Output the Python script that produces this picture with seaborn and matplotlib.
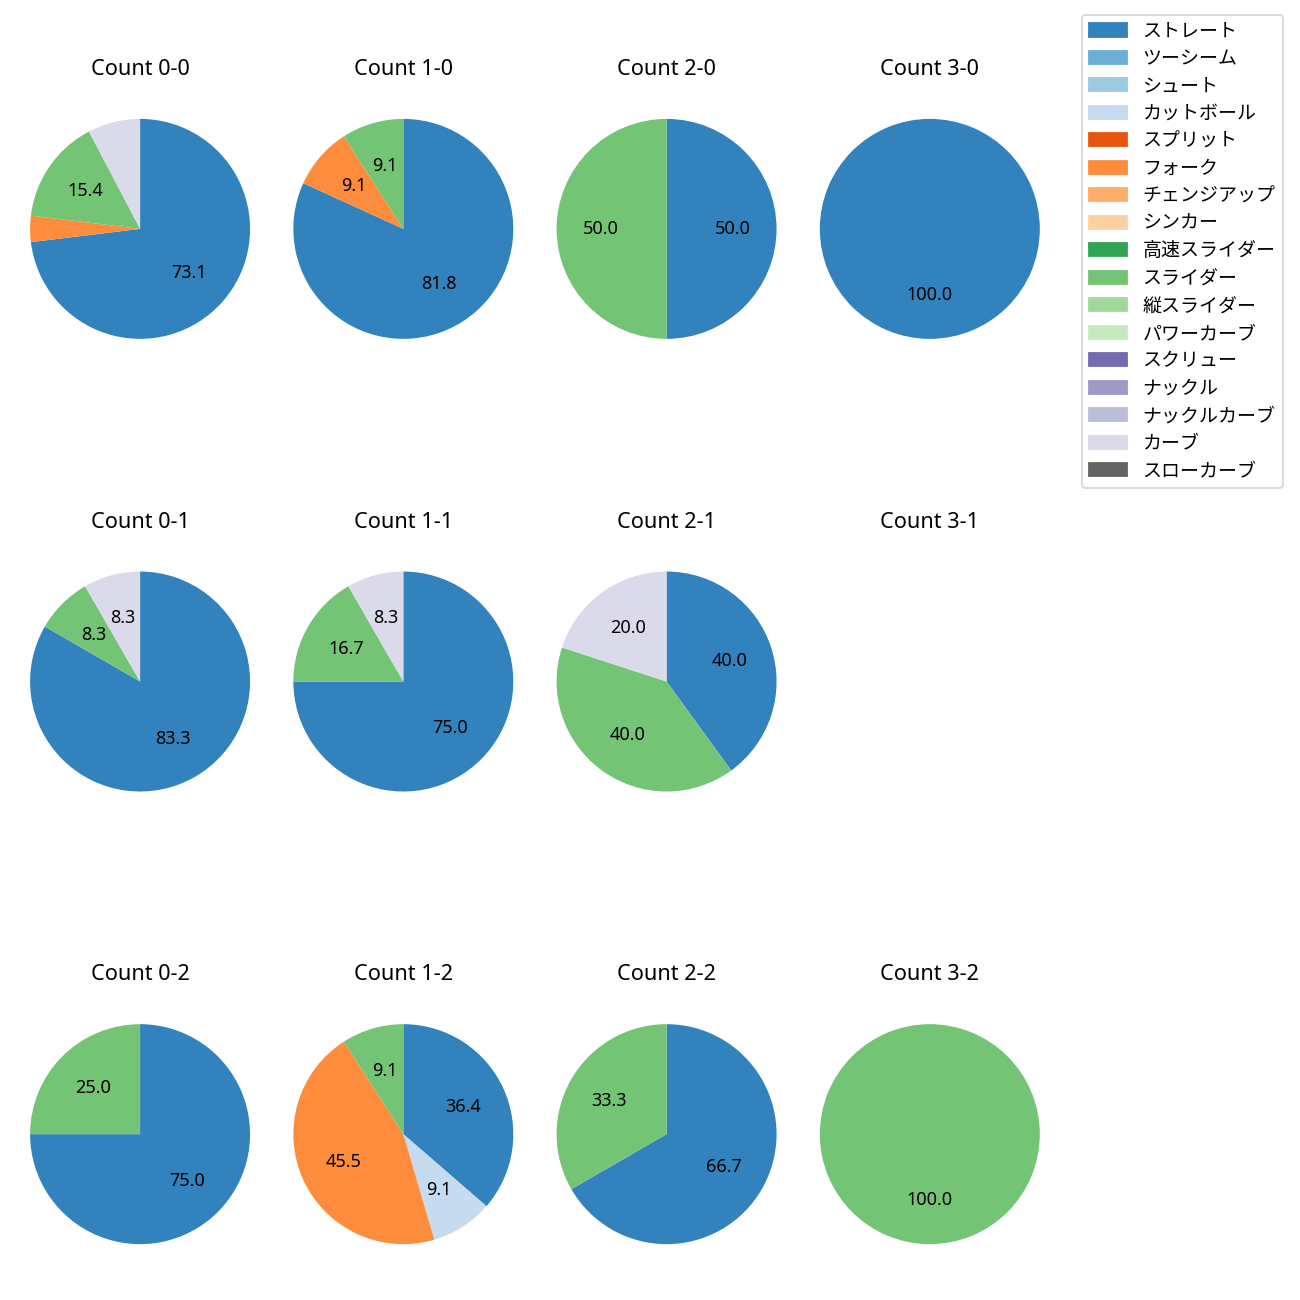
import matplotlib
matplotlib.use("Agg")
import matplotlib.pyplot as plt
import seaborn as sns

plt.rcParams['font.family'] = ['Noto Sans', 'Noto Sans CJK JP', 'DejaVu Sans']

# pitch types and colours (tab20c order)
pitch_types = ['ストレート', 'ツーシーム', 'シュート', 'カットボール', 'スプリット', 'フォーク',
               'チェンジアップ', 'シンカー', '高速スライダー', 'スライダー', '縦スライダー',
               'パワーカーブ', 'スクリュー', 'ナックル', 'ナックルカーブ', 'カーブ', 'スローカーブ']
pal = sns.color_palette('tab20c', 20)
colors = pal[:16] + [pal[16]]

# number of pitches of each type for each ball-strike count
counts = {
    '0-0': {'ストレート': 19, 'フォーク': 1, 'スライダー': 4, 'カーブ': 2},
    '1-0': {'ストレート': 9, 'フォーク': 1, 'スライダー': 1},
    '2-0': {'ストレート': 1, 'スライダー': 1},
    '3-0': {'ストレート': 1},
    '0-1': {'ストレート': 10, 'スライダー': 1, 'カーブ': 1},
    '1-1': {'ストレート': 9, 'スライダー': 2, 'カーブ': 1},
    '2-1': {'ストレート': 2, 'スライダー': 2, 'カーブ': 1},
    '3-1': {},
    '0-2': {'ストレート': 3, 'スライダー': 1},
    '1-2': {'ストレート': 4, 'カットボール': 1, 'フォーク': 5, 'スライダー': 1},
    '2-2': {'ストレート': 2, 'スライダー': 1},
    '3-2': {'スライダー': 1},
}
balls = [0, 1, 2, 3]
strikes = [0, 1, 2]

fig, axes = plt.subplots(3, 4, figsize=(10, 10))
fig.subplots_adjust(left=0.002, right=0.821, top=0.935, bottom=0.0165,
                    wspace=-0.0426, hspace=0.5675)

for r, s in enumerate(strikes):
    for c, b in enumerate(balls):
        ax = axes[r, c]
        key = f'{b}-{s}'
        ax.set_title(f'Count {key}', pad=9)
        data = counts[key]
        if data:
            labels = [p for p in pitch_types if p in data]
            vals = [data[p] for p in labels]
            cols = [colors[pitch_types.index(p)] for p in labels]
            ax.pie(vals, colors=cols, startangle=90, counterclock=False,
                   autopct=lambda p: f'{p:.1f}' if p >= 8 else '')
        else:
            # keep the empty panel the same square shape as the pies
            ax.set_xlim(-1.25, 1.25)
            ax.set_ylim(-1.25, 1.25)
            ax.set_aspect('equal')
        ax.axis('off')

handles = [plt.Rectangle((0, 0), 1, 1, color=col) for col in colors]
fig.legend(handles, pitch_types, loc='upper right', bbox_to_anchor=(0.987, 0.9885),
           borderaxespad=0, fontsize=10.5)

fig.savefig('out.png', dpi=130)
